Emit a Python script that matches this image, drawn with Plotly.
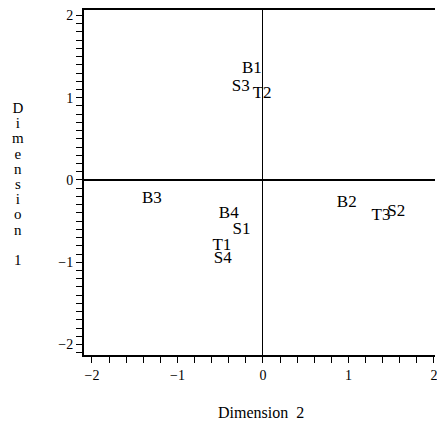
import plotly.graph_objects as go

labels = ["B1", "S3", "T2", "B3", "B4", "S1", "T1", "S4", "B2", "T3", "S2"]
dim2 = [-0.13, -0.26, -0.01, -1.30, -0.40, -0.25, -0.48, -0.47, 0.98, 1.38, 1.56]
dim1 = [1.35, 1.13, 1.05, -0.23, -0.41, -0.61, -0.80, -0.96, -0.28, -0.44, -0.38]

x_ticks = [-2, -1, 0, 1, 2]
y_ticks = [-2, -1, 0, 1, 2]

FONT = "Liberation Serif"

fig = go.Figure()
fig.add_trace(go.Scatter(
    x=dim2, y=dim1, mode="text", text=labels,
    textposition="middle center",
    textfont=dict(family=FONT, size=17, color="black"),
    hoverinfo="skip", showlegend=False,
))

fig.update_layout(
    width=437, height=424,
    margin=dict(l=84, r=0, t=10, b=69),
    paper_bgcolor="white", plot_bgcolor="white",
    font=dict(family=FONT, size=14, color="black"),
    xaxis=dict(
        range=[-2.093, 2.012], tickvals=x_ticks, ticks="outside", ticklen=6,
        tickwidth=1, tickcolor="black", showline=True, linecolor="black",
        linewidth=2, mirror=True, showgrid=False,
        zeroline=True, zerolinecolor="black", zerolinewidth=1,
        minor=dict(dtick=0.2, tick0=0, ticks="outside", ticklen=6, tickcolor="black", tickwidth=1),
        tickfont=dict(family=FONT, size=14), ticklabeloverflow="allow",
    ),
    yaxis=dict(
        range=[-2.127, 2.066], tickvals=y_ticks, ticks="outside", ticklen=6,
        tickwidth=1, tickcolor="black", showline=True, linecolor="black",
        linewidth=2, showgrid=False,
        zeroline=True, zerolinecolor="black", zerolinewidth=1.5,
        minor=dict(dtick=0.1, tick0=0, ticks="outside", ticklen=6, tickcolor="black", tickwidth=1),
        tickfont=dict(family=FONT, size=14), ticklabeloverflow="allow",
    ),
)

ytitle = "<br>".join(list("Dimension") + [" ", "1"])
fig.add_annotation(
    text='<span style="font-size:15px">' + ytitle.replace("<br>", '</span><br><span style="font-size:15px">') + "</span>",
    xref="paper", yref="paper", x=-0.187, y=0.496, xanchor="center", yanchor="middle",
    showarrow=False, align="center", font=dict(family=FONT, size=11.7, color="black"),
)
fig.add_annotation(
    text="Dimension  2", xref="paper", yref="paper", x=0.504, y=-0.168,
    xanchor="center", yanchor="middle", showarrow=False,
    font=dict(family=FONT, size=16, color="black"),
)

# remove the default 8px page margin so the figure fills the window exactly
fig.write_html(
    "out.html",
    config={"displayModeBar": False},
    post_script="document.body.style.margin='0';document.body.style.overflow='hidden';",
)
